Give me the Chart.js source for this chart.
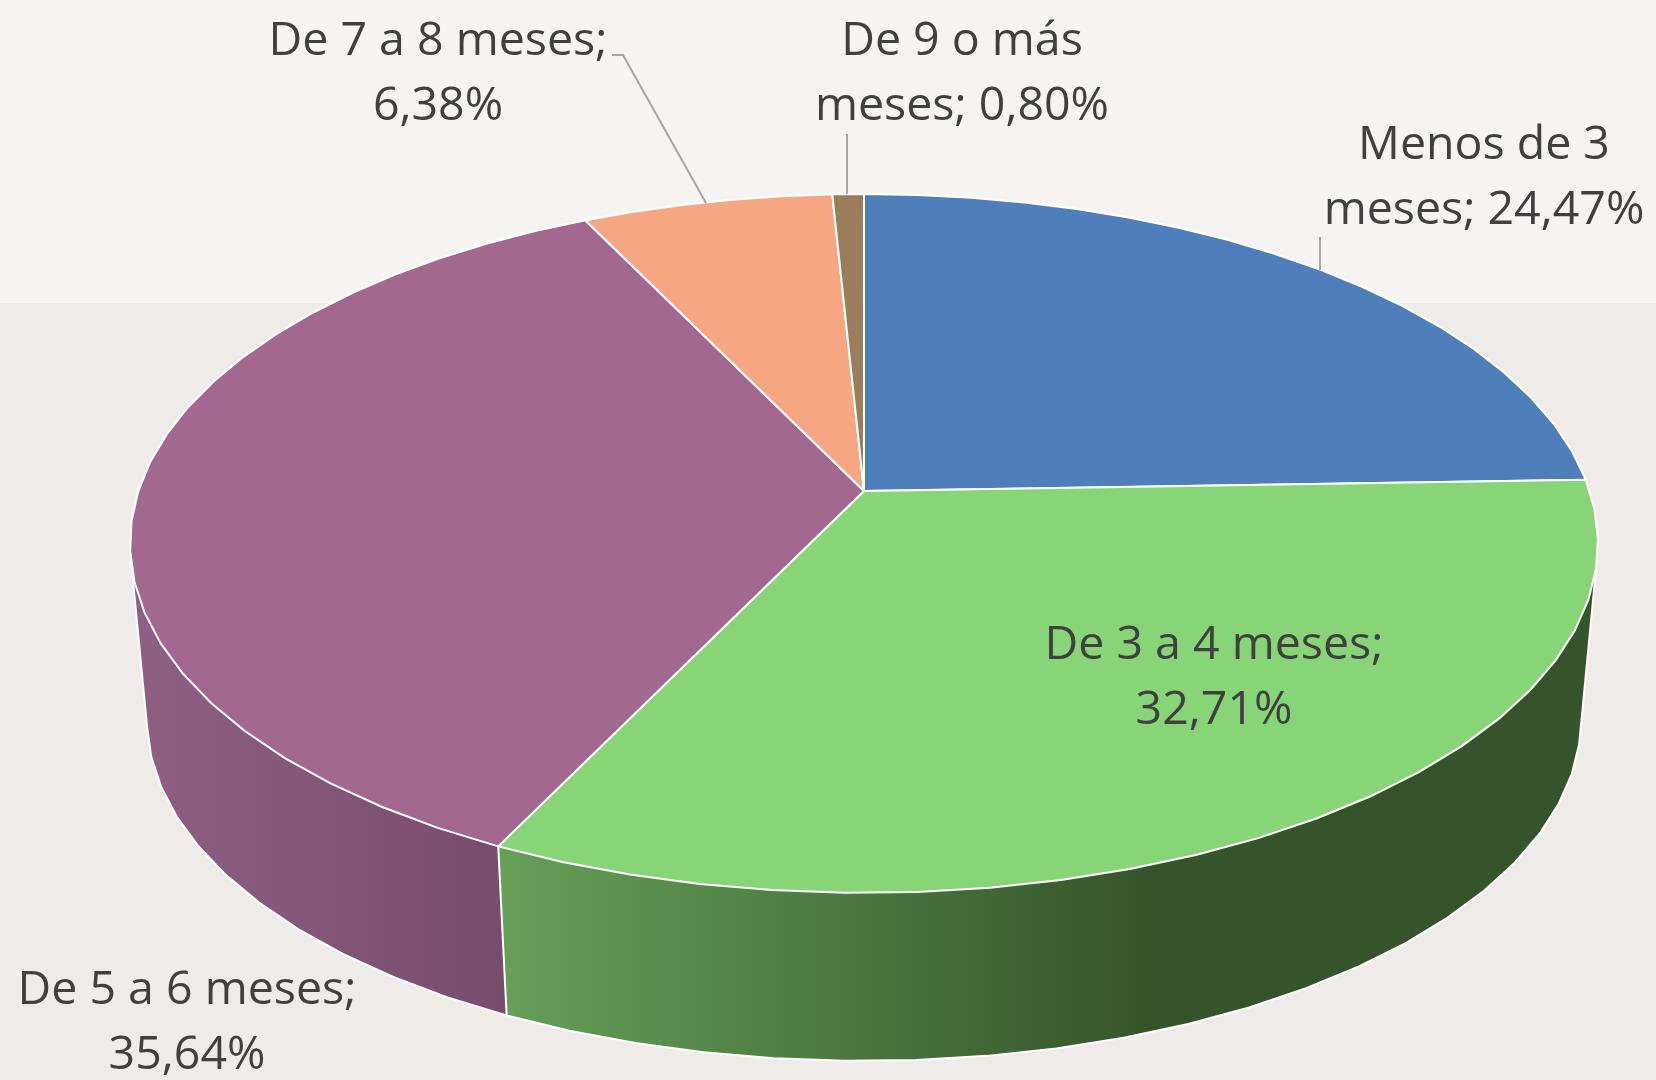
<!DOCTYPE html>
<html lang="es">
<head>
<meta charset="utf-8">
<title>Duración en meses</title>
<script src="https://cdn.jsdelivr.net/npm/chart.js@4/dist/chart.umd.min.js"></script>
<style>
    html, body { margin: 0; padding: 0; background: #efebe8; }
    canvas { display: block; }
</style>
</head>
<body>
<canvas id="pieChart" width="1656" height="1080"></canvas>
<script>
const categories = ['Menos de 3 meses', 'De 3 a 4 meses', 'De 5 a 6 meses', 'De 7 a 8 meses', 'De 9 o más meses'];
const values = [24.47, 32.71, 35.64, 6.38, 0.80];
const topColors = ['#4e7fbb', '#88d577', '#a3688f', '#f6a683', '#9b7c5b'];

// Where each label goes, and how many characters sit on its first line
const labelPlacement = [
    { x: 1484, y: 146, split: 10 },
    { x: 1214, y: 646, split: 15 },
    { x: 187, y: 991, split: 15 },
    { x: 438, y: 42, split: 15 },
    { x: 962, y: 42, split: 10 }
];
const leaderLines = [
    [[1320, 237], [1320, 270]],
    [[612, 55], [623, 55], [706, 203]],
    [[847, 134], [847, 194]]
];

// Side wall gradients, only the purple and green walls can be seen
const sideColors = [
    { from: 1000, to: 1600, start: '#36542b', end: '#36542b' },
    { from: 507, to: 1150, start: '#659f58', end: '#36542b' },
    { from: 130, to: 507, start: '#8f6084', end: '#784c6d' },
    { from: 0, to: 1656, start: '#a8704f', end: '#a8704f' },
    { from: 0, to: 1656, start: '#6e583f', end: '#6e583f' }
];
// Back walls go down first so the front ones overlap them
const wallOrder = [3, 4, 0, 2, 1];

// Perspective of the tilted disc: top face and bottom face
const topPlane = { cx: 864, a: 725.7, b: 267.9, c: 491, k: -0.15 };
const bottomPlane = { cx: 864, a: 709, b: 234.1, c: 667.7, k: -0.15 };
const FACET = Math.PI / 36;

function project(plane, angle) {
    const x = Math.cos(angle);
    const y = Math.sin(angle);
    const w = 1 + plane.k * y;
    return [plane.cx + plane.a * x / w, (plane.b * y + plane.c) / w];
}

function rimPoints(plane, start, end) {
    const steps = Math.max(1, Math.ceil((end - start) / FACET));
    const points = [];
    for (let i = 0; i <= steps; i++) {
        points.push(project(plane, start + (end - start) * i / steps));
    }
    return points;
}

// Convex hull, gives the straight silhouette edge of a wall between both rims
function convexHull(points) {
    const sorted = points.slice().sort((p, q) => p[0] - q[0] || p[1] - q[1]);
    const cross = (o, p, q) => (p[0] - o[0]) * (q[1] - o[1]) - (p[1] - o[1]) * (q[0] - o[0]);
    const walk = list => {
        const chain = [];
        list.forEach(p => {
            while (chain.length > 1 && cross(chain[chain.length - 2], chain[chain.length - 1], p) <= 0) {
                chain.pop();
            }
            chain.push(p);
        });
        chain.pop();
        return chain;
    };
    return walk(sorted).concat(walk(sorted.slice().reverse()));
}

function tracePolygon(ctx, points) {
    ctx.beginPath();
    points.forEach((p, i) => (i ? ctx.lineTo(p[0], p[1]) : ctx.moveTo(p[0], p[1])));
    ctx.closePath();
}

function formatValue(value) {
    return value.toFixed(2).replace('.', ',') + '%';
}

const tiltedPie = {
    id: 'tiltedPie',
    beforeDraw(chart) {
        const ctx = chart.ctx;
        ctx.save();
        ctx.fillStyle = '#efebe8';
        ctx.fillRect(0, 0, chart.width, chart.height);
        ctx.fillStyle = '#f5f4f2';
        ctx.fillRect(0, 0, chart.width, 303);
        ctx.restore();
    },
    // Take the slice angles from the controller and draw them in perspective
    beforeDatasetsDraw(chart) {
        const ctx = chart.ctx;
        const arcs = chart.getDatasetMeta(0).data;
        ctx.save();
        ctx.lineJoin = 'round';
        ctx.strokeStyle = '#ffffff';
        ctx.lineWidth = 2;

        // Walls first, the top faces then cover whatever is behind
        wallOrder.forEach(i => {
            const arc = arcs[i];
            const side = sideColors[i];
            const gradient = ctx.createLinearGradient(side.from, 0, side.to, 0);
            gradient.addColorStop(0, side.start);
            gradient.addColorStop(1, side.end);
            const upper = rimPoints(topPlane, arc.startAngle, arc.endAngle);
            const lower = rimPoints(bottomPlane, arc.startAngle, arc.endAngle);
            tracePolygon(ctx, convexHull(upper.concat(lower)));
            ctx.fillStyle = gradient;
            ctx.fill();
            ctx.stroke();
        });

        arcs.forEach((arc, i) => {
            const face = rimPoints(topPlane, arc.startAngle, arc.endAngle);
            face.push([topPlane.cx, topPlane.c]);
            tracePolygon(ctx, face);
            ctx.fillStyle = topColors[i];
            ctx.fill();
            ctx.stroke();
        });
        ctx.restore();
        return false;
    },
    afterDraw(chart) {
        const ctx = chart.ctx;
        ctx.save();
        ctx.strokeStyle = '#a6a6a6';
        ctx.lineWidth = 2;
        leaderLines.forEach(line => {
            ctx.beginPath();
            line.forEach((p, i) => (i ? ctx.lineTo(p[0], p[1]) : ctx.moveTo(p[0], p[1])));
            ctx.stroke();
        });

        ctx.fillStyle = '#404040';
        ctx.font = '46.5px "Open Sans"';
        ctx.textAlign = 'center';
        ctx.textBaseline = 'middle';
        categories.forEach((name, i) => {
            const place = labelPlacement[i];
            const text = `${name}; ${formatValue(values[i])}`;
            ctx.fillText(text.slice(0, place.split), place.x, place.y);
            ctx.fillText(text.slice(place.split + 1), place.x, place.y + 65);
        });
        ctx.restore();
    }
};

new Chart(document.getElementById('pieChart'), {
    type: 'pie',
    data: {
        labels: categories,
        datasets: [{ data: values, backgroundColor: topColors }]
    },
    options: {
        responsive: false,
        animation: false,
        plugins: {
            legend: { display: false },
            tooltip: { enabled: false }
        }
    },
    plugins: [tiltedPie]
});
</script>
</body>
</html>
